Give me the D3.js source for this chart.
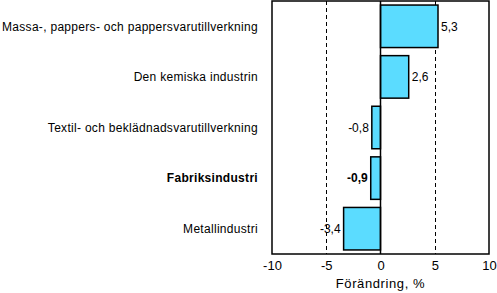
<!DOCTYPE html>
<html>
<head>
<meta charset="utf-8">
<script src="https://cdn.jsdelivr.net/npm/d3@7"></script>
<style>
  body { margin: 0; background: #fff; }
  text { font-family: "Liberation Sans", Arial, sans-serif; fill: #000; }
</style>
</head>
<body>
<div id="chart"></div>
<script>
const categories = [
  "Massa-, pappers- och pappersvarutillverkning",
  "Den kemiska industrin",
  "Textil- och beklädnadsvarutillverkning",
  "Fabriksindustri",
  "Metallindustri"
];
const values = [5.3, 2.6, -0.8, -0.9, -3.4];
const boldCats = ["Fabriksindustri"];
const xTicks = [-10, -5, 0, 5, 10];
const gridLines = [-5, 5];
const axisTitle = "Förändring, %";

const width = 497, height = 293;
const margin = { left: 272, right: 8, top: 1, bottom: 39 };

const svg = d3.select("#chart").append("svg")
  .attr("width", width).attr("height", height);

const x = d3.scaleLinear().domain([-10, 10]).range([margin.left, width - margin.right]);
const y = d3.scaleBand().domain(categories)
  .range([margin.top, height - margin.bottom]).paddingInner(0.16).paddingOuter(0.08);

// comma decimal, plain hyphen for minus like the original
const fmt = v => d3.format(".1f")(v).replace(".", ",").replace("\u2212", "-");

// dashed grid
svg.selectAll("line.grid").data(gridLines).join("line")
  .attr("class", "grid")
  .attr("x1", d => Math.round(x(d)) + 0.5).attr("x2", d => Math.round(x(d)) + 0.5)
  .attr("y1", margin.top).attr("y2", height - margin.bottom)
  .attr("stroke", "#000").attr("stroke-dasharray", "4,3");

// bars
svg.selectAll("rect.bar").data(values).join("rect")
  .attr("class", "bar")
  .attr("x", d => x(Math.min(0, d)))
  .attr("width", d => Math.abs(x(d) - x(0)))
  .attr("y", (d, i) => y(categories[i]))
  .attr("height", y.bandwidth())
  .attr("fill", "#5BDCFF")
  .attr("stroke", "#000").attr("stroke-width", 1.5);

// zero line
svg.append("line")
  .attr("x1", x(0)).attr("x2", x(0))
  .attr("y1", margin.top).attr("y2", height - margin.bottom)
  .attr("stroke", "#000").attr("stroke-width", 1.5);

// frame
svg.append("rect")
  .attr("x", margin.left).attr("y", margin.top)
  .attr("width", width - margin.left - margin.right)
  .attr("height", height - margin.top - margin.bottom)
  .attr("fill", "none").attr("stroke", "#000").attr("stroke-width", 1.5);

// value labels
svg.selectAll("text.val").data(values).join("text")
  .attr("class", "val")
  .attr("x", d => d >= 0 ? x(d) + 3 : x(d) - 3)
  .attr("y", (d, i) => y(categories[i]) + y.bandwidth() / 2)
  .attr("dy", "0.35em")
  .attr("text-anchor", d => d >= 0 ? "start" : "end")
  .attr("font-size", 12)
  .attr("font-weight", (d, i) => boldCats.includes(categories[i]) ? "bold" : "normal")
  .text(d => fmt(d));

// category labels
svg.selectAll("text.cat").data(categories).join("text")
  .attr("class", "cat")
  .attr("x", margin.left - 14)
  .attr("y", d => y(d) + y.bandwidth() / 2)
  .attr("dy", "0.35em")
  .attr("text-anchor", "end")
  .attr("font-size", 12)
  .attr("letter-spacing", 0.3)
  .attr("font-weight", d => boldCats.includes(d) ? "bold" : "normal")
  .text(d => d);

// x axis
const xAxis = d3.axisBottom(x).tickValues(xTicks).tickSize(0).tickPadding(7)
  .tickFormat(d => String(d));
const ax = svg.append("g")
  .attr("transform", `translate(0,${height - margin.bottom})`)
  .call(xAxis);
ax.select(".domain").remove();
ax.selectAll("text").attr("font-size", 13)
  .attr("font-family", "'Liberation Sans', Arial, sans-serif");

svg.append("text")
  .attr("x", x(0)).attr("y", 288)
  .attr("text-anchor", "middle")
  .attr("font-size", 13)
  .attr("letter-spacing", 0.6)
  .text(axisTitle);
</script>
</body>
</html>
